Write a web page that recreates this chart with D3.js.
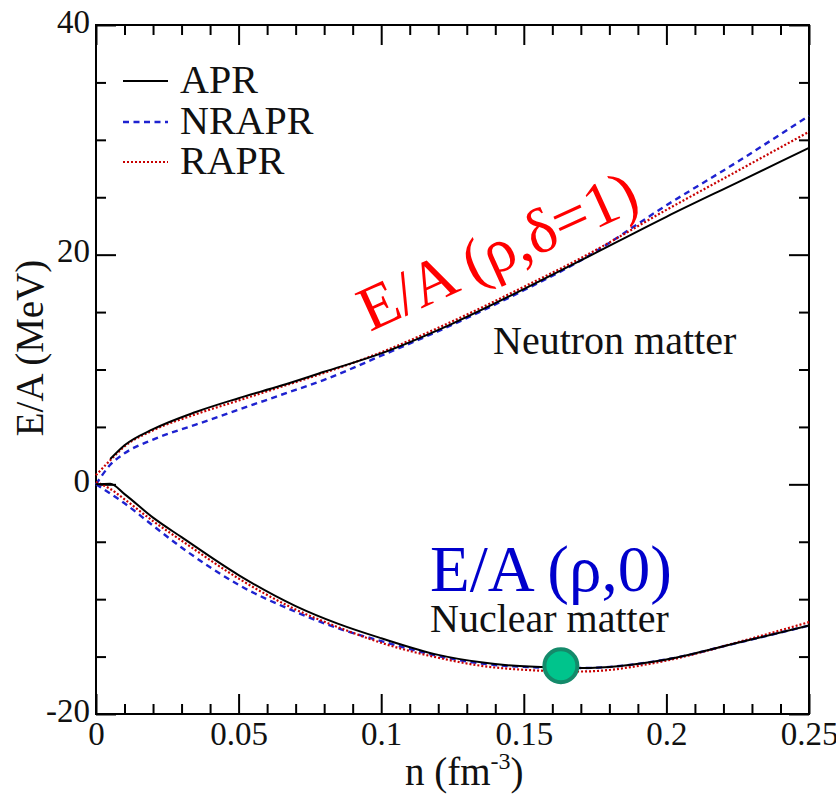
<!DOCTYPE html>
<html>
<head>
<meta charset="utf-8">
<script src="https://cdn.jsdelivr.net/npm/d3@7"></script>
<style>
  html, body { margin: 0; padding: 0; background: #fff; }
  svg text { font-family: "Liberation Serif", "Times New Roman", Times, serif; }
</style>
</head>
<body>
<svg id="chart" width="836" height="796"></svg>
<script>
// Energy per nucleon vs density for three APR-type parametrisations.
const SERIF = "'Liberation Serif', 'Times New Roman', Times, serif";

// Pure neutron matter (delta = 1)
const neutronDensity = [0, 0.005, 0.01, 0.02, 0.035, 0.05, 0.065, 0.08, 0.1, 0.125, 0.15, 0.17, 0.2, 0.225, 0.25];
const neutronAPR   = [null, 2.2, 3.4, 4.8, 6.3, 7.5, 8.6, 9.8, 11.4, 14.0, 17.0, 19.5, 23.3, 26.3, 29.3];
const neutronNRAPR = [0, 1.7, 2.7, 3.9, 5.2, 6.5, 7.8, 9.1, 11.2, 13.9, 16.9, 19.5, 24.3, 28.1, 32.1];
const neutronRAPR  = [0.8, 2.1, 3.3, 4.7, 6.1, 7.3, 8.5, 9.7, 11.5, 14.2, 17.2, 19.7, 23.9, 27.3, 30.7];

// Symmetric nuclear matter (delta = 0)
const nuclearDensity = [0, 0.005, 0.01, 0.02, 0.03, 0.05, 0.07, 0.085, 0.1, 0.12, 0.135, 0.15, 0.17, 0.2, 0.225, 0.25];
const nuclearAPR   = [0, 0.05, -0.85, -2.9, -4.6, -7.9, -10.6, -12.15, -13.4, -14.85, -15.5, -15.85, -16.0, -15.25, -13.8, -12.3];
const nuclearNRAPR = [0, -0.8, -1.65, -3.6, -5.5, -8.75, -11.1, -12.55, -13.65, -14.95, -15.6, -15.9, -16.0, -15.25, -13.8, -12.3];
const nuclearRAPR  = [0.2, -0.4, -1.3, -3.2, -4.9, -8.2, -10.9, -12.45, -13.8, -15.1, -15.8, -16.15, -16.3, -15.35, -13.75, -12.0];

// Saturation point
const saturation = [{ n: 0.163, e: -15.8 }];

const seriesNames = ["APR", "NRAPR", "RAPR"];
const xMajorTicks = [0, 0.05, 0.1, 0.15, 0.2, 0.25];
const xTickLabels = ["0", "0.05", "0.1", "0.15", "0.2", "0.25"];
const yMajorTicks = [-20, 0, 20, 40];
const yTickLabels = ["-20", "0", "20", "40"];

const styles = {
  APR:   { color: "#000000", width: 2,   dash: null },
  NRAPR: { color: "#1e22d0", width: 2.4, dash: "6,4.5" },
  RAPR:  { color: "#c80000", width: 2.2, dash: "2,2" }
};

const svg = d3.select("#chart");
const plotLeft = 96, plotRight = 809, plotTop = 25, plotBottom = 714;

const x = d3.scaleLinear().domain([0, 0.25]).range([plotLeft, plotRight]);
const y = d3.scaleLinear().domain([-20, 40]).range([plotBottom, plotTop]);

const xMinor = d3.range(0, 0.2501, 0.01).filter(v => Math.abs(Math.round(v / 0.05) * 0.05 - v) > 1e-6);
const yMinor = d3.range(-20, 40.01, 5).filter(v => v % 20 !== 0);

// Axes with inward ticks on all four sides
function styleAxis(g) {
  g.attr("font-family", SERIF);
  g.select(".domain").remove();
  g.selectAll(".tick line").attr("stroke", "#000").attr("stroke-width", 2);
  g.selectAll("text").attr("fill", "#111").attr("font-family", SERIF).attr("font-size", 33);
}

svg.append("g").attr("transform", `translate(0,${plotBottom})`)
  .call(d3.axisBottom(x).tickValues(xMajorTicks).tickSize(-20).tickPadding(8)
    .tickFormat((d, i) => xTickLabels[i]))
  .call(styleAxis);
svg.append("g").attr("transform", `translate(0,${plotBottom})`)
  .call(d3.axisBottom(x).tickValues(xMinor).tickSize(-10).tickFormat(""))
  .call(styleAxis);
svg.append("g").attr("transform", `translate(0,${plotTop})`)
  .call(d3.axisTop(x).tickValues(xMajorTicks).tickSize(-20).tickFormat(""))
  .call(styleAxis);
svg.append("g").attr("transform", `translate(0,${plotTop})`)
  .call(d3.axisTop(x).tickValues(xMinor).tickSize(-10).tickFormat(""))
  .call(styleAxis);

svg.append("g").attr("transform", `translate(${plotLeft},0)`)
  .call(d3.axisLeft(y).tickValues(yMajorTicks).tickSize(-20).tickPadding(6)
    .tickFormat((d, i) => yTickLabels[i]))
  .call(styleAxis)
  .selectAll("text").attr("dy", "0.22em");
svg.append("g").attr("transform", `translate(${plotLeft},0)`)
  .call(d3.axisLeft(y).tickValues(yMinor).tickSize(-10).tickFormat(""))
  .call(styleAxis);
svg.append("g").attr("transform", `translate(${plotRight},0)`)
  .call(d3.axisRight(y).tickValues(yMajorTicks).tickSize(-20).tickFormat(""))
  .call(styleAxis);
svg.append("g").attr("transform", `translate(${plotRight},0)`)
  .call(d3.axisRight(y).tickValues(yMinor).tickSize(-10).tickFormat(""))
  .call(styleAxis);

// Frame
svg.append("rect")
  .attr("x", plotLeft).attr("y", plotTop)
  .attr("width", plotRight - plotLeft).attr("height", plotBottom - plotTop)
  .attr("fill", "none").attr("stroke", "#000").attr("stroke-width", 2);

// Curves
const line = d3.line()
  .defined(d => d.e !== null)
  .x(d => x(d.n)).y(d => y(d.e))
  .curve(d3.curveMonotoneX);

const curves = [
  { name: "NRAPR", n: neutronDensity, e: neutronNRAPR },
  { name: "NRAPR", n: nuclearDensity, e: nuclearNRAPR },
  { name: "RAPR",  n: neutronDensity, e: neutronRAPR },
  { name: "RAPR",  n: nuclearDensity, e: nuclearRAPR },
  { name: "APR",   n: neutronDensity, e: neutronAPR },
  { name: "APR",   n: nuclearDensity, e: nuclearAPR }
];

const plot = svg.append("g");
curves.forEach(c => {
  const pts = c.n.map((n, i) => ({ n, e: c.e[i] }));
  const s = styles[c.name];
  plot.append("path")
    .datum(pts)
    .attr("d", line)
    .attr("fill", "none")
    .attr("stroke", s.color)
    .attr("stroke-width", s.width)
    .attr("stroke-dasharray", s.dash)
    .attr("stroke-linejoin", "round");
});

// Saturation marker
plot.selectAll("circle.sat").data(saturation).join("circle")
  .attr("class", "sat")
  .attr("cx", d => x(d.n)).attr("cy", d => y(d.e))
  .attr("r", 16.5)
  .attr("fill", "#00c48c")
  .attr("stroke", "#148a6a")
  .attr("stroke-width", 4);

// Text helper so every label uses the serif face
function label(sel, size, fill) {
  return sel.append("text")
    .attr("font-family", SERIF)
    .attr("font-size", size)
    .attr("fill", fill);
}

// Legend
const legend = svg.append("g");
const legendRows = [81, 122, 162];
seriesNames.forEach((name, i) => {
  const s = styles[name];
  legend.append("line")
    .attr("x1", 123).attr("x2", 168)
    .attr("y1", legendRows[i]).attr("y2", legendRows[i])
    .attr("stroke", s.color).attr("stroke-width", s.width)
    .attr("stroke-dasharray", s.dash);
  label(legend, 40, "#111")
    .attr("x", 180).attr("y", legendRows[i] + 12)
    .text(name);
});

// Annotations
label(svg, 63, "#ff0000")
  .attr("transform", "translate(370,332) rotate(-24.5)")
  .text("E/A (ρ,δ=1)");

label(svg, 40, "#111")
  .attr("x", 493).attr("y", 354)
  .text("Neutron matter");

label(svg, 65, "#0000cc")
  .attr("x", 430).attr("y", 591)
  .text("E/A (ρ,0)");

label(svg, 40, "#111")
  .attr("x", 430).attr("y", 632)
  .text("Nuclear matter");

// Axis titles
label(svg, 39, "#111")
  .attr("transform", "translate(43,348) rotate(-90)")
  .attr("text-anchor", "middle")
  .text("E/A (MeV)");

const xTitle = label(svg, 39, "#111")
  .attr("x", 405).attr("y", 785);
xTitle.append("tspan").text("n (fm");
xTitle.append("tspan").attr("dy", -16).attr("font-size", 24).text("-3");
xTitle.append("tspan").attr("dy", 16).text(")");
</script>
</body>
</html>
